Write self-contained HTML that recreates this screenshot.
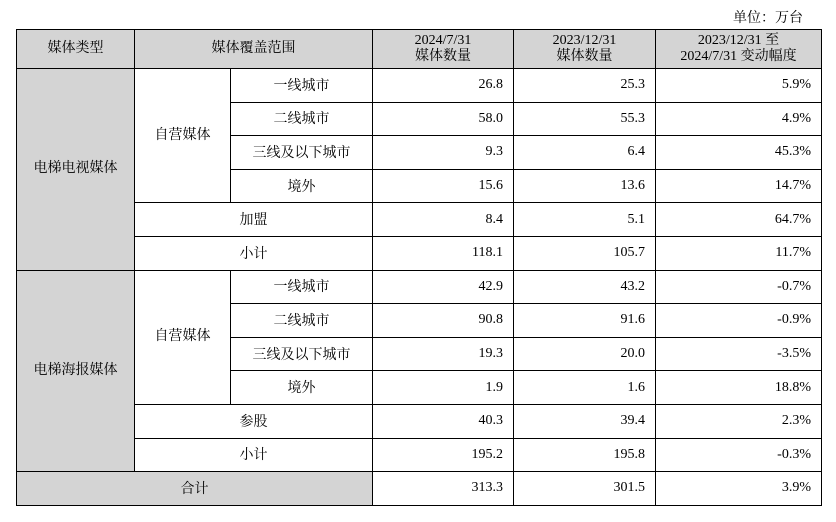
<!DOCTYPE html>
<html><head><meta charset="utf-8"><style>
body{margin:0;width:836px;height:522px;background:#fff;position:relative;font-family:"Liberation Serif","Noto Serif CJK SC",serif;font-size:14px;color:#000;}
.unit{position:absolute;right:33px;top:7px;font-size:14px;}
table{position:absolute;left:16px;top:29px;border-collapse:collapse;table-layout:fixed;}
td{border:1px solid #000;padding:0;height:32.6px;text-align:center;line-height:16px;}
tr.h td{height:38px;background:#d4d4d4;}
td.c{padding-top:3px;height:29.6px;}
.g{background:#d4d4d4;}
.n{text-align:right;padding-right:10px;}
</style></head><body>
<div class="unit">单位：万台</div>
<table>
<colgroup><col style="width:118px"><col style="width:96px"><col style="width:142px"><col style="width:141px"><col style="width:142px"><col style="width:166px"></colgroup>
<tr class="h"><td>媒体类型</td><td colspan="2">媒体覆盖范围</td><td>2024/7/31<br>媒体数量</td><td>2023/12/31<br>媒体数量</td><td>2023/12/31 至<br>2024/7/31 变动幅度</td></tr>
<tr><td rowspan="6" class="g">电梯电视媒体</td><td rowspan="4">自营媒体</td><td class="c">一线城市</td><td class="n">26.8</td><td class="n">25.3</td><td class="n">5.9%</td></tr>
<tr><td class="c">二线城市</td><td class="n">58.0</td><td class="n">55.3</td><td class="n">4.9%</td></tr>
<tr><td class="c">三线及以下城市</td><td class="n">9.3</td><td class="n">6.4</td><td class="n">45.3%</td></tr>
<tr><td class="c">境外</td><td class="n">15.6</td><td class="n">13.6</td><td class="n">14.7%</td></tr>
<tr><td colspan="2" class="c">加盟</td><td class="n">8.4</td><td class="n">5.1</td><td class="n">64.7%</td></tr>
<tr><td colspan="2" class="c">小计</td><td class="n">118.1</td><td class="n">105.7</td><td class="n">11.7%</td></tr>
<tr><td rowspan="6" class="g">电梯海报媒体</td><td rowspan="4">自营媒体</td><td class="c">一线城市</td><td class="n">42.9</td><td class="n">43.2</td><td class="n">-0.7%</td></tr>
<tr><td class="c">二线城市</td><td class="n">90.8</td><td class="n">91.6</td><td class="n">-0.9%</td></tr>
<tr><td class="c">三线及以下城市</td><td class="n">19.3</td><td class="n">20.0</td><td class="n">-3.5%</td></tr>
<tr><td class="c">境外</td><td class="n">1.9</td><td class="n">1.6</td><td class="n">18.8%</td></tr>
<tr><td colspan="2" class="c">参股</td><td class="n">40.3</td><td class="n">39.4</td><td class="n">2.3%</td></tr>
<tr><td colspan="2" class="c">小计</td><td class="n">195.2</td><td class="n">195.8</td><td class="n">-0.3%</td></tr>
<tr><td colspan="3" class="g c">合计</td><td class="n">313.3</td><td class="n">301.5</td><td class="n">3.9%</td></tr>
</table>
</body></html>
